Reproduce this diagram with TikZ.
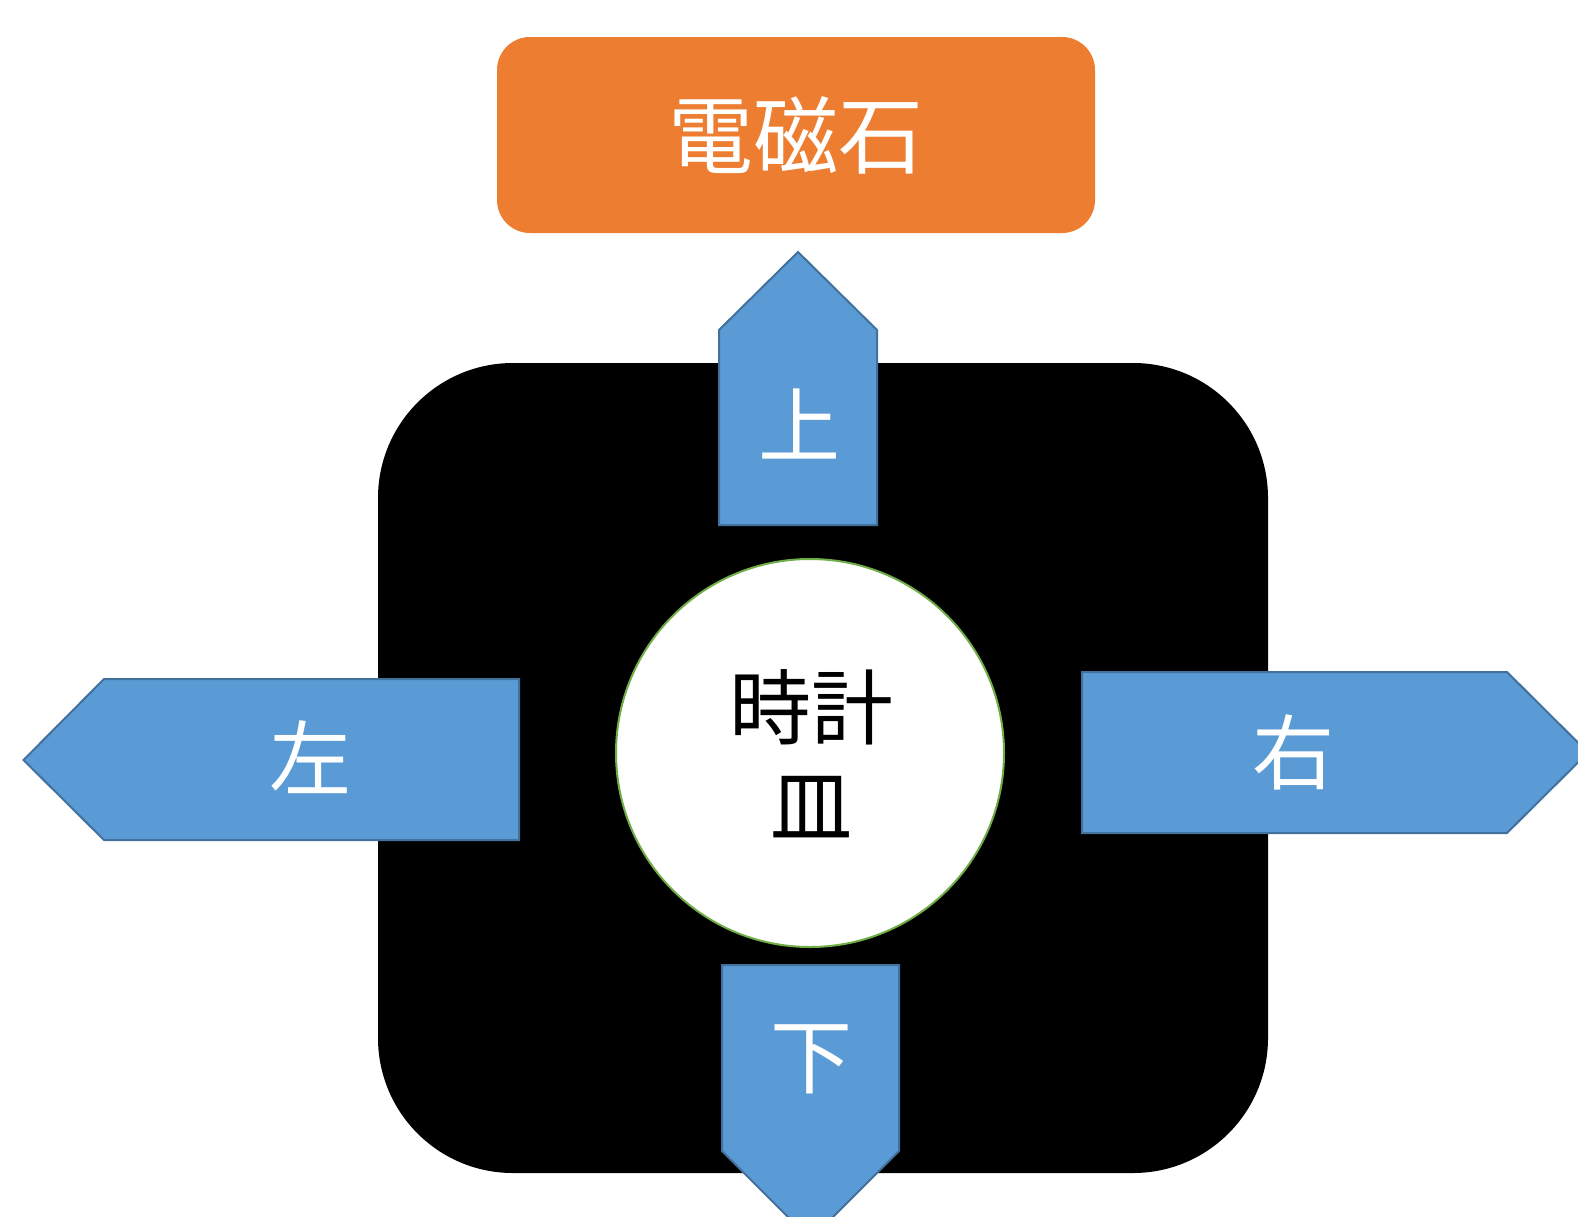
\documentclass[tikz,border=0pt]{standalone}
\usepackage{fontspec}
\newfontfamily\cjk{Noto Sans CJK JP}
\definecolor{orng}{HTML}{ED7D31}
\definecolor{blu}{HTML}{5B9BD5}
\definecolor{bluedge}{HTML}{41719C}
\definecolor{grn}{HTML}{70AD47}
\begin{document}
\begin{tikzpicture}[x=1pt,y=-1pt,
  arrowshape/.style={fill=blu,draw=bluedge,line width=2pt,line join=miter},
  wlabel/.style={text=white,font=\cjk\fontsize{82}{96}\selectfont,inner sep=0pt},
  blabel/.style={text=black,font=\cjk\fontsize{82}{98}\selectfont,inner sep=0pt,align=center}]
\useasboundingbox (0,0) rectangle (1578,1216);
% black rounded square
\fill[black,rounded corners=135pt] (378,363) rectangle (1268,1173);
% circle
\node[circle,draw=grn,fill=white,line width=2pt,minimum size=388pt,inner sep=0pt] (plate) at (810,753) {};
\node[blabel] (platetext) at (811,754) {時計\\皿};
% up arrow
\draw[arrowshape] (719,525) -- (719,330) -- (798,252) -- (877,330) -- (877,525) -- cycle;
\node[wlabel] (up) at (799,424) {上};
% left arrow
\draw[arrowshape] (519,679) -- (104,679) -- (23.5,760) -- (104,840) -- (519,840) -- cycle;
\node[wlabel] (left) at (310,757) {左};
% right arrow
\draw[arrowshape] (1082,672) -- (1507,672) -- (1588,752.5) -- (1507,833) -- (1082,833) -- cycle;
\node[wlabel] (right) at (1293,752) {右};
% down arrow
\draw[arrowshape] (722,965) -- (899,965) -- (899,1151) -- (810.5,1239.5) -- (722,1151) -- cycle;
\node[wlabel] (down) at (811,1059) {下};
% electromagnet
\node[fill=orng,rounded corners=33pt,minimum width=598pt,minimum height=196pt,inner sep=0pt] (magnet) at (796,135) {};
\node[wlabel,font=\cjk\fontsize{85}{98}\selectfont] (magtext) at (796,135) {電磁石};
\end{tikzpicture}
\end{document}
